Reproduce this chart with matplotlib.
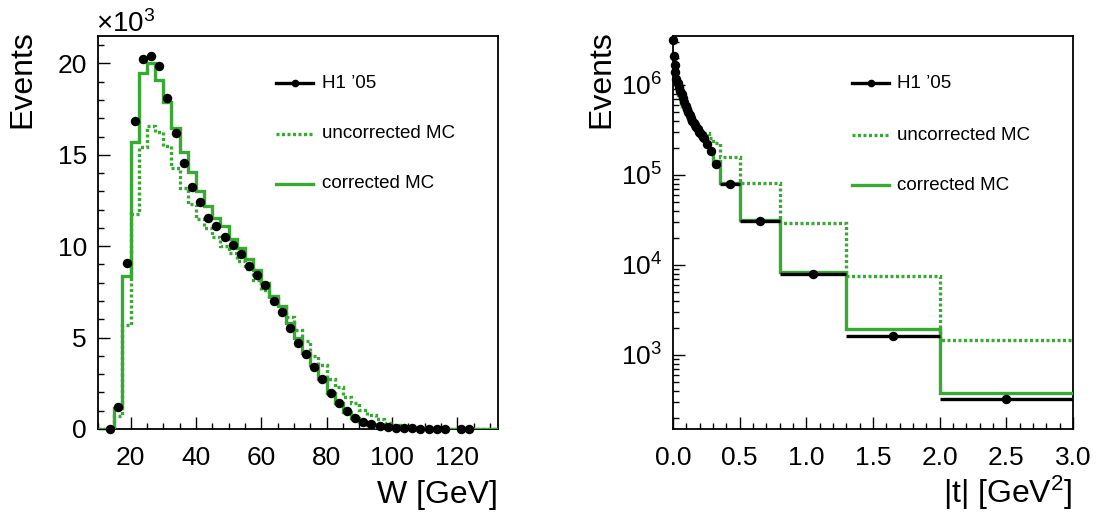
import numpy as np
import matplotlib
matplotlib.use("Agg")
import matplotlib.pyplot as plt
from matplotlib.ticker import MultipleLocator, FuncFormatter, LogLocator, NullFormatter, FormatStrFormatter
from matplotlib.lines import Line2D

plt.rcParams['font.family'] = ['Liberation Sans', 'DejaVu Sans']
plt.rcParams['mathtext.fontset'] = 'custom'
plt.rcParams['mathtext.rm'] = 'Liberation Sans'
plt.rcParams['mathtext.it'] = 'Liberation Sans:italic'
plt.rcParams['mathtext.bf'] = 'Liberation Sans:bold'

# ---------------- W distribution (values in units of 10^3 events) ----------------
w_lo, w_hi, w_bw = 10.0, 132.5, 2.5
w_edges = np.arange(w_lo, w_hi + 0.001, w_bw)

w_corr_k = [0, 0,
            1.13, 8.39, 15.7, 19.5, 20.0, 19.1, 17.9, 16.45, 15.17, 14.04,
            13.0, 12.2, 11.56, 11.1, 10.37, 9.88, 9.28, 8.7, 8.0, 7.27,
            6.73, 5.8, 5.0, 4.14, 3.5, 2.72, 1.99, 1.44, 0.95, 0.62,
            0.36, 0.22, 0.12, 0.07, 0.04, 0.02, 0.01, 0.01, 0, 0,
            0, 0, 0, 0, 0, 0, 0]
w_uncorr_k = [0, 0,
              0.71, 5.69, 11.74, 15.44, 16.57, 16.26, 15.5, 14.26, 13.2, 12.29,
              11.47, 10.98, 10.48, 10.0, 9.64, 9.2, 8.73, 8.15, 7.6, 7.09,
              6.7, 6.15, 5.42, 4.81, 3.99, 3.5, 2.72, 2.28, 1.77, 1.40,
              1.04, 0.77, 0.53, 0.35, 0.22, 0.13, 0.07, 0.04, 0.02, 0.01,
              0, 0, 0, 0, 0, 0, 0]

w_data_x = [13.75, 16.25, 18.75, 21.25, 23.75, 26.25, 28.75, 31.25, 33.75, 36.25,
            38.75, 41.25, 43.75, 46.25, 48.75, 51.25, 53.75, 56.25, 58.75, 61.25,
            63.75, 66.25, 68.75, 71.25, 73.75, 76.25, 78.75, 81.25, 83.75, 86.25,
            88.75, 91.25, 93.75, 96.25, 98.75, 101.25, 103.75, 106.25, 108.75, 111.25,
            113.75, 116.25, 121.25, 123.75]
w_data_k = [0.0, 1.19, 9.06, 16.85, 20.24, 20.42, 19.85, 18.09, 16.17, 14.57,
            13.25, 12.43, 11.52, 11.12, 10.48, 10.06, 9.57, 8.93, 8.42, 7.88,
            7.0, 6.4, 5.51, 4.73, 4.08, 3.37, 2.74, 1.99, 1.40, 0.98,
            0.62, 0.40, 0.26, 0.16, 0.09, 0.06, 0.04, 0.03, 0.02, 0.01,
            0.01, 0.0, 0.0, 0.0]

# ---------------- |t| distribution ----------------
t_data_edges = [0.000, 0.005, 0.010, 0.015, 0.02, 0.03, 0.04, 0.05, 0.06, 0.07, 0.08,
                0.09, 0.10, 0.11, 0.12, 0.13, 0.14, 0.15, 0.16, 0.17, 0.18, 0.19,
                0.20, 0.21, 0.22, 0.23, 0.24, 0.27, 0.30, 0.35, 0.50, 0.80, 1.30,
                2.00, 3.00]
t_data = [3.2e6, 2.1e6, 1.65e6, 1.4e6, 1.17e6, 1.05e6, 9.4e5, 8.6e5, 7.85e5, 7.1e5,
          6.45e5, 5.9e5, 5.45e5, 5.0e5, 4.6e5, 4.25e5, 4.0e5, 3.75e5, 3.55e5, 3.4e5,
          3.2e5, 3.0e5, 2.9e5, 2.75e5, 2.65e5, 2.6e5,
          2.2e5, 1.86e5, 1.32e5, 8.0e4, 3.1e4, 7.9e3, 1.63e3, 322]

t_mc_edges = [0.00, 0.01, 0.02, 0.03, 0.04, 0.05, 0.06, 0.07, 0.08, 0.09, 0.10,
              0.11, 0.12, 0.13, 0.14, 0.15, 0.16, 0.17, 0.18, 0.19, 0.20,
              0.21, 0.22, 0.23, 0.24, 0.27, 0.30, 0.35, 0.50, 0.80, 1.30, 2.00, 3.00]
t_uncorr = [1.29e6, 1.12e6, 9.8e5, 8.5e5, 7.6e5, 6.9e5, 6.3e5, 5.8e5, 5.4e5, 5.0e5,
            4.7e5, 4.5e5, 4.2e5, 4.0e5, 3.8e5, 3.6e5, 3.5e5, 3.4e5, 3.3e5, 3.25e5,
            3.15e5, 3.1e5, 3.0e5, 2.95e5,
            2.9e5, 2.6e5, 2.24e5, 1.6e5, 8.1e4, 2.9e4, 7.55e3, 1.47e3]
t_corr = [1.35e6, 1.15e6, 1.0e6, 8.7e5, 7.8e5, 7.1e5, 6.45e5, 5.9e5, 5.45e5, 5.0e5,
          4.7e5, 4.35e5, 4.1e5, 3.85e5, 3.65e5, 3.45e5, 3.3e5, 3.15e5, 3.0e5, 2.9e5,
          2.8e5, 2.7e5, 2.65e5, 2.55e5,
          2.25e5, 1.82e5, 1.41e5, 8.1e4, 3.16e4, 8.4e3, 1.93e3, 381]

legend_labels = ["H1 \u201905", "uncorrected MC", "corrected MC"]

# ---------------- styling ----------------
W, H = 1100, 518
GREEN = '#38aa33'
LW = 2.4
DOT = (0, (0.9, 0.75))
TICK_FS = 19
TITLE_FS = 23
LEG_FS = 13.5

fig = plt.figure(figsize=(W / 100, H / 100), dpi=100)

def fx(x):
    return x / W

def fy(y):
    return 1 - y / H

axL = fig.add_axes([fx(98), fy(429), 400 / W, 393 / H])
axR = fig.add_axes([fx(673), fy(429), 400 / W, 393 / H])

for ax in (axL, axR):
    for s in ax.spines.values():
        s.set_linewidth(1.3)
    ax.tick_params(which='both', direction='in', top=False, right=False,
                   labelsize=TICK_FS, width=1.0)
    ax.tick_params(which='major', length=8.6)
    ax.tick_params(which='minor', length=4.3)
    ax.tick_params(axis='x', pad=12)
    ax.tick_params(axis='y', pad=8)

# Left panel
axL.stairs(w_uncorr_k, w_edges, baseline=None, color=GREEN, lw=LW, linestyle=DOT, zorder=2)
axL.stairs(w_corr_k, w_edges, baseline=None, color=GREEN, lw=LW, zorder=3)
axL.plot(w_data_x, w_data_k, 'o', color='black', ms=5.8, zorder=5, clip_on=False)
axL.set_xlim(w_lo, w_hi)
axL.set_ylim(0, 21.5)
axL.xaxis.set_major_locator(MultipleLocator(20))
axL.xaxis.set_minor_locator(MultipleLocator(5))
axL.yaxis.set_major_locator(MultipleLocator(5))
axL.yaxis.set_minor_locator(MultipleLocator(1))
axL.xaxis.set_major_formatter(FormatStrFormatter('%d'))
axL.yaxis.set_major_formatter(FormatStrFormatter('%d'))

# Right panel
te = np.array(t_data_edges)
t_cent = 0.5 * (te[:-1] + te[1:])
t_half = 0.5 * (te[1:] - te[:-1])
axR.stairs(t_uncorr, t_mc_edges, baseline=None, color=GREEN, lw=LW, linestyle=DOT, zorder=2)
axR.stairs(t_corr, t_mc_edges, baseline=None, color=GREEN, lw=LW, zorder=3)
axR.errorbar(t_cent, t_data, xerr=t_half, fmt='none', ecolor='black',
             elinewidth=LW, capsize=0, zorder=5)
axR.plot(t_cent, t_data, 'o', color='black', ms=5.8, zorder=6, clip_on=False)
axR.set_yscale('log')
axR.set_xlim(0, 3.0)
axR.set_ylim(150, 3.5e6)
axR.xaxis.set_major_locator(MultipleLocator(0.5))
axR.xaxis.set_minor_locator(MultipleLocator(0.1))
axR.xaxis.set_major_formatter(FormatStrFormatter('%.1f'))
axR.yaxis.set_major_locator(LogLocator(base=10))
axR.yaxis.set_minor_locator(LogLocator(base=10, subs=np.arange(2, 10)))
axR.yaxis.set_minor_formatter(NullFormatter())
axR.yaxis.set_major_formatter(FuncFormatter(lambda v, p: r'$10^{%d}$' % int(round(np.log10(v)))))

# Axis titles
fig.text(fx(22), fy(30), 'Events', rotation=90, ha='center', va='top', fontsize=TITLE_FS)
fig.text(fx(601), fy(30), 'Events', rotation=90, ha='center', va='top', fontsize=TITLE_FS)
fig.text(fx(498), fy(503), 'W [GeV]', ha='right', va='baseline', fontsize=TITLE_FS)
fig.text(fx(1073), fy(503), r'|t| [GeV$^{2}$]', ha='right', va='baseline', fontsize=TITLE_FS)
fig.text(fx(96), fy(32), '\u00d710$^{3}$', ha='left', va='baseline', fontsize=20)

# Legends
def legend(x0, x1, xt, ys):
    styles = [dict(color='black', lw=LW),
              dict(color=GREEN, lw=LW, linestyle=DOT),
              dict(color=GREEN, lw=LW)]
    for i, (lab, y) in enumerate(zip(legend_labels, ys)):
        fig.add_artist(Line2D([fx(x0), fx(x1)], [fy(y), fy(y)], transform=fig.transFigure, **styles[i]))
        if i == 0:
            fig.add_artist(Line2D([fx(0.5 * (x0 + x1))], [fy(y)], transform=fig.transFigure,
                                  marker='o', ms=4.5, color='black', lw=0))
        fig.text(fx(xt), fy(y), lab, ha='left', va='center', fontsize=LEG_FS)

legend(276, 313, 322, [83, 134, 184])
legend(852, 889, 897, [83, 135, 185])

fig.savefig('out.png', dpi=100)
